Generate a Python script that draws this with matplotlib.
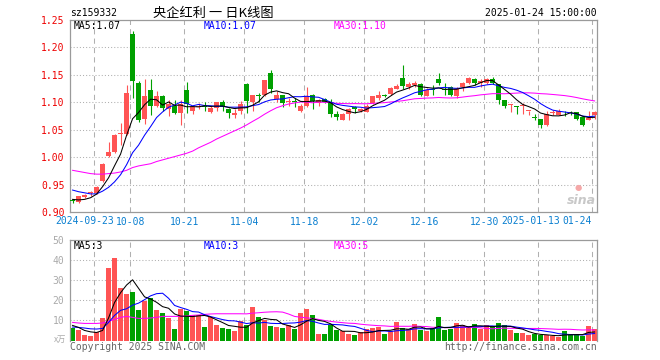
import numpy as np
import pandas as pd
import matplotlib
matplotlib.use("Agg")
import matplotlib.pyplot as plt

plt.rcParams['font.family'] = ['DejaVu Sans Mono', 'Noto Sans CJK SC']

# ---------------- data ----------------
opens = [0.921, 0.918, 0.928, 0.934, 0.935, 0.957, 1.002, 1.010, 1.042, 1.043,
         1.224, 1.136, 1.070, 1.123, 1.093, 1.112, 1.088, 1.094, 1.081, 1.122,
         1.084, 1.092, 1.093, 1.083, 1.090, 1.100, 1.088, 1.076, 1.084, 1.133,
         1.100, 1.114, 1.113, 1.153, 1.106, 1.113, 1.101, 1.102, 1.084, 1.094,
         1.114, 1.099, 1.106, 1.100, 1.078, 1.067, 1.078, 1.092, 1.085, 1.083,
         1.098, 1.108, 1.113, 1.116, 1.125, 1.144, 1.127, 1.131, 1.134, 1.112,
         1.124, 1.142, 1.124, 1.127, 1.111, 1.127, 1.136, 1.143, 1.135, 1.136,
         1.143, 1.133, 1.104, 1.095, 1.093, 1.093, 1.084, 1.073, 1.069, 1.058,
         1.080, 1.076, 1.081, 1.081, 1.082, 1.073, 1.067, 1.076]
highs = [0.923, 0.930, 0.933, 0.938, 0.947, 0.989, 1.028, 1.042, 1.062, 1.131,
         1.230, 1.139, 1.143, 1.142, 1.120, 1.114, 1.104, 1.104, 1.105, 1.137,
         1.094, 1.099, 1.100, 1.094, 1.100, 1.104, 1.090, 1.087, 1.102, 1.136,
         1.114, 1.117, 1.141, 1.159, 1.120, 1.114, 1.108, 1.108, 1.096, 1.128,
         1.115, 1.106, 1.108, 1.106, 1.084, 1.081, 1.090, 1.093, 1.090, 1.096,
         1.112, 1.120, 1.116, 1.128, 1.134, 1.168, 1.137, 1.139, 1.135, 1.126,
         1.131, 1.153, 1.136, 1.130, 1.128, 1.137, 1.147, 1.144, 1.142, 1.145,
         1.147, 1.134, 1.105, 1.097, 1.094, 1.098, 1.085, 1.078, 1.069, 1.084,
         1.086, 1.088, 1.085, 1.085, 1.083, 1.074, 1.084, 1.084]
lows = [0.916, 0.916, 0.926, 0.930, 0.933, 0.955, 1.000, 1.007, 1.023, 1.041,
        1.108, 1.064, 1.061, 1.076, 1.091, 1.084, 1.075, 1.079, 1.059, 1.081,
        1.078, 1.088, 1.085, 1.081, 1.084, 1.084, 1.071, 1.071, 1.078, 1.081,
        1.084, 1.100, 1.112, 1.117, 1.100, 1.092, 1.094, 1.092, 1.082, 1.092,
        1.087, 1.094, 1.098, 1.073, 1.067, 1.067, 1.067, 1.081, 1.083, 1.082,
        1.096, 1.105, 1.110, 1.114, 1.124, 1.124, 1.125, 1.128, 1.111, 1.111,
        1.114, 1.131, 1.114, 1.112, 1.108, 1.120, 1.134, 1.131, 1.128, 1.134,
        1.133, 1.096, 1.089, 1.082, 1.079, 1.078, 1.076, 1.067, 1.054, 1.057,
        1.077, 1.076, 1.075, 1.076, 1.067, 1.056, 1.067, 1.069]
closes = [0.920, 0.929, 0.931, 0.937, 0.946, 0.988, 1.010, 1.041, 1.043, 1.117,
          1.139, 1.067, 1.112, 1.093, 1.112, 1.090, 1.096, 1.081, 1.096, 1.096,
          1.092, 1.093, 1.091, 1.090, 1.100, 1.092, 1.080, 1.081, 1.096, 1.102,
          1.114, 1.112, 1.141, 1.124, 1.113, 1.098, 1.102, 1.101, 1.094, 1.111,
          1.102, 1.105, 1.100, 1.078, 1.073, 1.078, 1.088, 1.087, 1.088, 1.094,
          1.111, 1.114, 1.112, 1.126, 1.130, 1.129, 1.133, 1.136, 1.114, 1.123,
          1.123, 1.135, 1.123, 1.114, 1.124, 1.136, 1.145, 1.135, 1.139, 1.143,
          1.136, 1.105, 1.094, 1.096, 1.092, 1.094, 1.085, 1.072, 1.059, 1.078,
          1.083, 1.084, 1.080, 1.080, 1.070, 1.059, 1.072, 1.082]
volumes = [6.2, 5.0, 2.5, 2.0, 4.2, 11.3, 36.2, 41.0, 26.2, 23.3,
           24.3, 15.0, 19.7, 21.0, 15.0, 13.5, 11.0, 5.5, 15.7, 14.5,
           12.8, 12.8, 6.5, 11.8, 7.5, 6.0, 5.5, 4.5, 9.5, 7.5,
           16.5, 11.5, 10.0, 7.0, 6.5, 6.0, 7.5, 5.5, 13.5, 15.5,
           12.5, 3.0, 3.0, 7.5, 5.0, 4.5, 3.0, 2.5, 4.0, 5.5,
           6.0, 6.5, 3.0, 4.5, 9.0, 6.0, 5.5, 8.0, 5.0, 4.5,
           6.0, 11.5, 5.0, 5.5, 8.5, 7.5, 7.0, 8.0, 5.5, 7.5,
           6.5, 8.5, 7.5, 5.0, 3.5, 3.7, 2.5, 3.0, 2.5, 2.5,
           2.2, 1.8, 4.7, 3.0, 3.0, 2.2, 7.2, 5.8]

# moving-average values at the start of the window (read from the chart,
# their history lies before the first visible day)
ma5_head = [0.923, 0.922, 0.923, 0.926]
ma10_head = [0.940, 0.937, 0.935, 0.933, 0.933, 0.938, 0.945, 0.955, 0.968]
ma30_head = [0.976, 0.974, 0.972, 0.970, 0.969, 0.969, 0.970, 0.971, 0.973, 0.976,
             0.981, 0.984, 0.986, 0.988, 0.992, 0.995, 0.998, 1.001, 1.004, 1.007,
             1.011, 1.017, 1.022, 1.027, 1.033, 1.038, 1.043, 1.048, 1.053]
vma5_head = [7.5, 6.5, 5.0, 4.3]
vma10_head = [6.7, 6.5, 6.2, 5.8, 5.7, 6.0, 9.0, 12.5, 15.0]
vma30_head = [9.0, 8.7, 8.5, 8.5, 8.5, 8.7, 9.5, 10.5, 11.5, 12.0,
              11.5, 11.0, 11.0, 11.2, 11.5, 12.0, 12.0, 12.0, 12.0, 12.2,
              12.5, 12.7, 13.0, 13.2, 13.3, 13.3, 13.3, 13.3, 13.3]

tick_days = [4, 10, 19, 29, 39, 49, 59, 69, 78, 87]
tick_labels = ['2024-09-23', '10-08', '10-21', '11-04', '11-18', '12-02',
               '12-16', '12-30', '2025-01-13', '01-24']
price_ticks = [0.90, 0.95, 1.00, 1.05, 1.10, 1.15, 1.20, 1.25]
vol_ticks = [10, 20, 30, 40, 50]

title = '央企红利 一 日K线图'
code = 'sz159332'
stamp = '2025-01-24 15:00:00'
price_ma_labels = ['MA5:1.07', 'MA10:1.07', 'MA30:1.10']
vol_ma_labels = ['MA5:3', 'MA10:3', 'MA30:5']


def moving(values, n, head):
    m = pd.Series(values, dtype=float).rolling(n).mean().to_numpy()
    m[:len(head)] = head
    return m


# ---------------- styling ----------------
RED = '#ff5454'
GREEN = '#00a000'
GRID = '#b0b0b0'
FRAME = '#9a9a9a'
XCOL = '#0a7fd0'

n = len(closes)
x = np.arange(n)
o = np.array(opens); c = np.array(closes)
h = np.array(highs); l = np.array(lows)
v = np.array(volumes)
up = c >= o
cols = np.where(up, RED, GREEN)

W, H = 660, 360
fig = plt.figure(figsize=(6.6, 3.6), dpi=100)
fig.patch.set_facecolor('white')

def fx(px): return px / W
def fy(py): return 1 - py / H

ax = fig.add_axes([fx(70), fy(212), fx(597) - fx(70), fy(20) - fy(212)])
ax2 = fig.add_axes([fx(70), fy(340.5), fx(597) - fx(70), fy(240) - fy(340.5)])

xmin, xmax = -0.43, -0.43 + 527 / 6
vline_x = [d - 0.37 for d in tick_days]

for a in (ax, ax2):
    a.set_xlim(xmin, xmax)
    for s in a.spines.values():
        s.set_color(FRAME)
        s.set_linewidth(0.9)
    for xv in vline_x:
        a.axvline(xv, color=GRID, lw=0.75, ls=(0, (5, 4)), zorder=0)
    a.tick_params(length=0)

# price panel
ax.set_ylim(0.90, 1.25)
for yv in price_ticks[1:-1]:
    ax.axhline(yv, color=GRID, lw=0.75, ls=(0, (1, 2)), zorder=0)
ax.set_yticks(price_ticks)
ax.set_yticklabels(['%.2f' % t for t in price_ticks], color='#ee0000', fontsize=7)
ax.tick_params(axis='y', pad=4)
ax.set_xticks([])

# date labels below the price panel (first and last pairs nudged apart)
lab_ha = ['right', 'center', 'center', 'center', 'center', 'center',
          'center', 'center', 'right', 'right']
lab_px = {0: 114, 8: 560, 9: 592}
trans = ax.get_xaxis_transform()
for k, (xv, lab) in enumerate(zip(vline_x, tick_labels)):
    if k in lab_px:
        fig.text(fx(lab_px[k]), fy(221.5), lab, color=XCOL, fontsize=7,
                 ha=lab_ha[k], va='center')
    else:
        ax.text(xv, -0.05, lab, transform=trans, color=XCOL, fontsize=7,
                ha='center', va='center')

ax.vlines(x, l, h, colors=cols, lw=0.8, zorder=2)
body = np.maximum(np.abs(c - o), 0.0012)
ax.bar(x, body, bottom=np.minimum(o, c), width=0.8, color=cols, lw=0, zorder=3)

ma5 = moving(closes, 5, ma5_head)
ma10 = moving(closes, 10, ma10_head)
ma30 = moving(closes, 30, ma30_head)
ax.plot(x, ma30, color='#ff00ff', lw=0.75, zorder=4)
ax.plot(x, ma10, color='#0000ff', lw=0.75, zorder=4)
ax.plot(x, ma5, color='black', lw=0.75, zorder=4)

# volume panel
ax2.set_ylim(0, 50)
ax2.spines['bottom'].set_visible(False)
for yv in vol_ticks[:-1]:
    ax2.axhline(yv, color=GRID, lw=0.75, ls=(0, (1, 2)), zorder=0)
ax2.set_yticks(vol_ticks)
ax2.set_yticklabels([str(t) for t in vol_ticks], color='#aaaaaa', fontsize=7)
ax2.tick_params(axis='y', pad=4)
ax2.set_xticks([])
ax2.bar(x, v, width=0.8, color=cols, lw=0, zorder=2)
vma5 = moving(volumes, 5, vma5_head)
vma10 = moving(volumes, 10, vma10_head)
vma30 = moving(volumes, 30, vma30_head)
ax2.plot(x, vma30, color='#ff00ff', lw=0.75, zorder=4)
ax2.plot(x, vma10, color='#0000ff', lw=0.75, zorder=4)
ax2.plot(x, vma5, color='black', lw=0.75, zorder=4)

# texts
fig.text(fx(70), fy(13), code, fontsize=7, va='center', ha='left', color='black')
fig.text(fx(213), fy(13), title, fontsize=9.5, va='center', ha='center',
         color='black', family=['Noto Sans CJK SC', 'DejaVu Sans'])
fig.text(fx(597), fy(13), stamp, fontsize=7, va='center', ha='right', color='black')

ma_colors = ['black', '#0000ff', '#ff00ff']
ma_x = [74, 204, 334]
for lab, col, px in zip(price_ma_labels, ma_colors, ma_x):
    fig.text(fx(px), fy(26), lab, fontsize=7, va='center', ha='left', color=col)
for lab, col, px in zip(vol_ma_labels, ma_colors, ma_x):
    fig.text(fx(px), fy(246), lab, fontsize=7, va='center', ha='left', color=col)

fig.text(fx(66), fy(339), 'x万', fontsize=6, va='center', ha='right', color='#aaaaaa',
         family=['Noto Sans CJK SC', 'DejaVu Sans'])
fig.text(fx(70), fy(347), 'Copyright 2025 SINA.COM', fontsize=7, va='center',
         ha='left', color='#666666')
fig.text(fx(597), fy(347), 'http://finance.sina.com.cn', fontsize=7, va='center',
         ha='right', color='#666666')

# sina watermark
fig.text(fx(596), fy(200), 'sina', fontsize=9, fontweight='bold', style='italic',
         va='center', ha='right', color='#c8c8c8', family='DejaVu Sans')
fig.text(fx(578), fy(187), '●', fontsize=6, va='center', ha='center',
         color='#f5a8a8', family='DejaVu Sans')

fig.savefig('out.png', dpi=100, facecolor='white')
